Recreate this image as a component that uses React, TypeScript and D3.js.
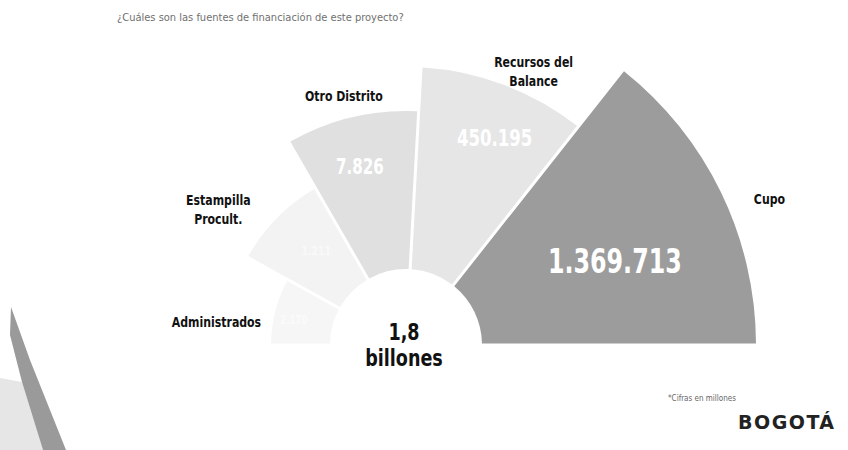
import React from "react";
import * as d3 from "d3";

// ---- data ----
const categories = ["Administrados", "Estampilla Procult.", "Otro Distrito", "Recursos del Balance", "Cupo"];
const valueLabels = ["2.170", "1.211", "7.826", "450.195", "1.369.713"];
const angularWeights = [28, 30, 32, 34, 50];
const radiusRank = [0, 1, 2, 3, 4];
const labelLines = [["Administrados"], ["Estampilla", "Procult."], ["Otro Distrito"], ["Recursos del", "Balance"], ["Cupo"]];
const centerLines = ["1,8", "billones"];
const title = "¿Cuáles son las fuentes de financiación de este proyecto?";
const footnote = "*Cifras en millones";

const W = 848, H = 450;
const cx = 406, cy = 345;
const innerR = 76;
const FONT = "'DejaVu Sans Condensed', 'DejaVu Sans', sans-serif";

function NText({ x, y, sx, children, ...rest }: any) {
  return (
    <g transform={`translate(${x},${y}) scale(${sx},1)`}>
      <text x={0} y={0} {...rest}>{children}</text>
    </g>
  );
}

export default function App() {
  const data = categories.map((c, i) => ({ c, i, w: angularWeights[i] }));
  const pie = d3.pie<any>().sort(null).value((d) => d.w)
    .startAngle(-Math.PI / 2).endAngle(Math.PI / 2);
  const arcs = pie(data);
  const rScale = d3.scaleLinear().domain([0, 1, 2, 3, 4]).range([135, 181, 234, 278, 350]);
  const fills = d3.scaleOrdinal<number, string>().domain(radiusRank).range(["#f6f6f6", "#f3f3f3", "#e0e0e0", "#e6e6e6", "#9c9c9c"]);
  const valueFill = d3.scaleOrdinal<number, string>().domain(radiusRank).range(["#fbfbfb", "#f9f9f9", "#ffffff", "#ffffff", "#ffffff"]);
  const valueSize = d3.scaleOrdinal<number, number>().domain(radiusRank).range([12, 13, 21, 23, 33]);
  const valueRadiusFrac = [0.85, 0.72, 0.79, 0.81, 0.643];
  const valueAngleShift = [-2, 2, -1, 2.5, 4];
  const labelAngle = [-83, -54, -14, 25, 68];
  const labelR = [191, 232, 257, 302, 392];

  const arcGen = d3.arc<any>()
    .innerRadius(innerR)
    .outerRadius((d: any) => rScale(radiusRank[d.data.i]))
    .padAngle(0.03)
    .padRadius(100);

  const polar = (angDeg: number, r: number) => {
    const a = (angDeg * Math.PI) / 180;
    return [cx + r * Math.sin(a), cy - r * Math.cos(a)];
  };

  return (
    <svg width={W} height={H} style={{ position: "absolute", left: 0, top: 0, background: "#fff" }}>
      <rect width={W} height={H} fill="#fff" />
      <text x={117} y={21} fontFamily={FONT} fontSize={11} fill="#707070">{title}</text>

      {/* scan artifact on the lower left */}
      <path d="M0,378 L22,382 L43,450 L0,450 Z" fill="#e6e6e6" />
      <path d="M11,307 L30,360 L66,450 L43,450 L22,382 L10,335 Z" fill="#9a9a9a" />

      <g transform={`translate(${cx},${cy})`}>
        {arcs.map((a, k) => (
          <path key={k} d={arcGen(a) as string} fill={fills(radiusRank[a.data.i])} />
        ))}
      </g>

      {arcs.map((a, k) => {
        const i = a.data.i;
        const mid = ((a.startAngle + a.endAngle) / 2) * 180 / Math.PI + valueAngleShift[i];
        const [x, y] = polar(mid, rScale(radiusRank[i]) * valueRadiusFrac[i]);
        return (
          <NText key={"v" + k} x={x} y={y} sx={0.8} textAnchor="middle" dominantBaseline="central"
            fontFamily={FONT} fontWeight="bold" fontSize={valueSize(radiusRank[i])} fill={valueFill(radiusRank[i])}>
            {valueLabels[i]}
          </NText>
        );
      })}

      {labelLines.map((lines, i) => {
        const [x, y] = polar(labelAngle[i], labelR[i]);
        const off = -((lines.length - 1) * 19) / 2;
        return (
          <NText key={"l" + i} x={x} y={y + off} sx={0.84} textAnchor="middle"
            fontFamily={FONT} fontWeight="bold" fontSize={14.5} fill="#111" dominantBaseline="central">
            {lines.map((t, j) => (
              <tspan key={j} x={0} dy={j === 0 ? 0 : 19}>{t}</tspan>
            ))}
          </NText>
        );
      })}

      <NText x={cx - 2} y={cy - 5} sx={0.85} textAnchor="middle" fontFamily={FONT} fontWeight="bold" fontSize={23} fill="#111">{centerLines[0]}</NText>
      <NText x={cx - 2} y={cy + 21} sx={0.85} textAnchor="middle" fontFamily={FONT} fontWeight="bold" fontSize={23} fill="#111">{centerLines[1]}</NText>

      <text x={668} y={401} fontFamily={FONT} fontSize={8} fill="#666">{footnote}</text>
      <text x={738} y={429} fontFamily="'DejaVu Sans', sans-serif" fontWeight="bold" fontSize={19} fill="#222" letterSpacing={1.5}>BOGOTÁ</text>
    </svg>
  );
}
